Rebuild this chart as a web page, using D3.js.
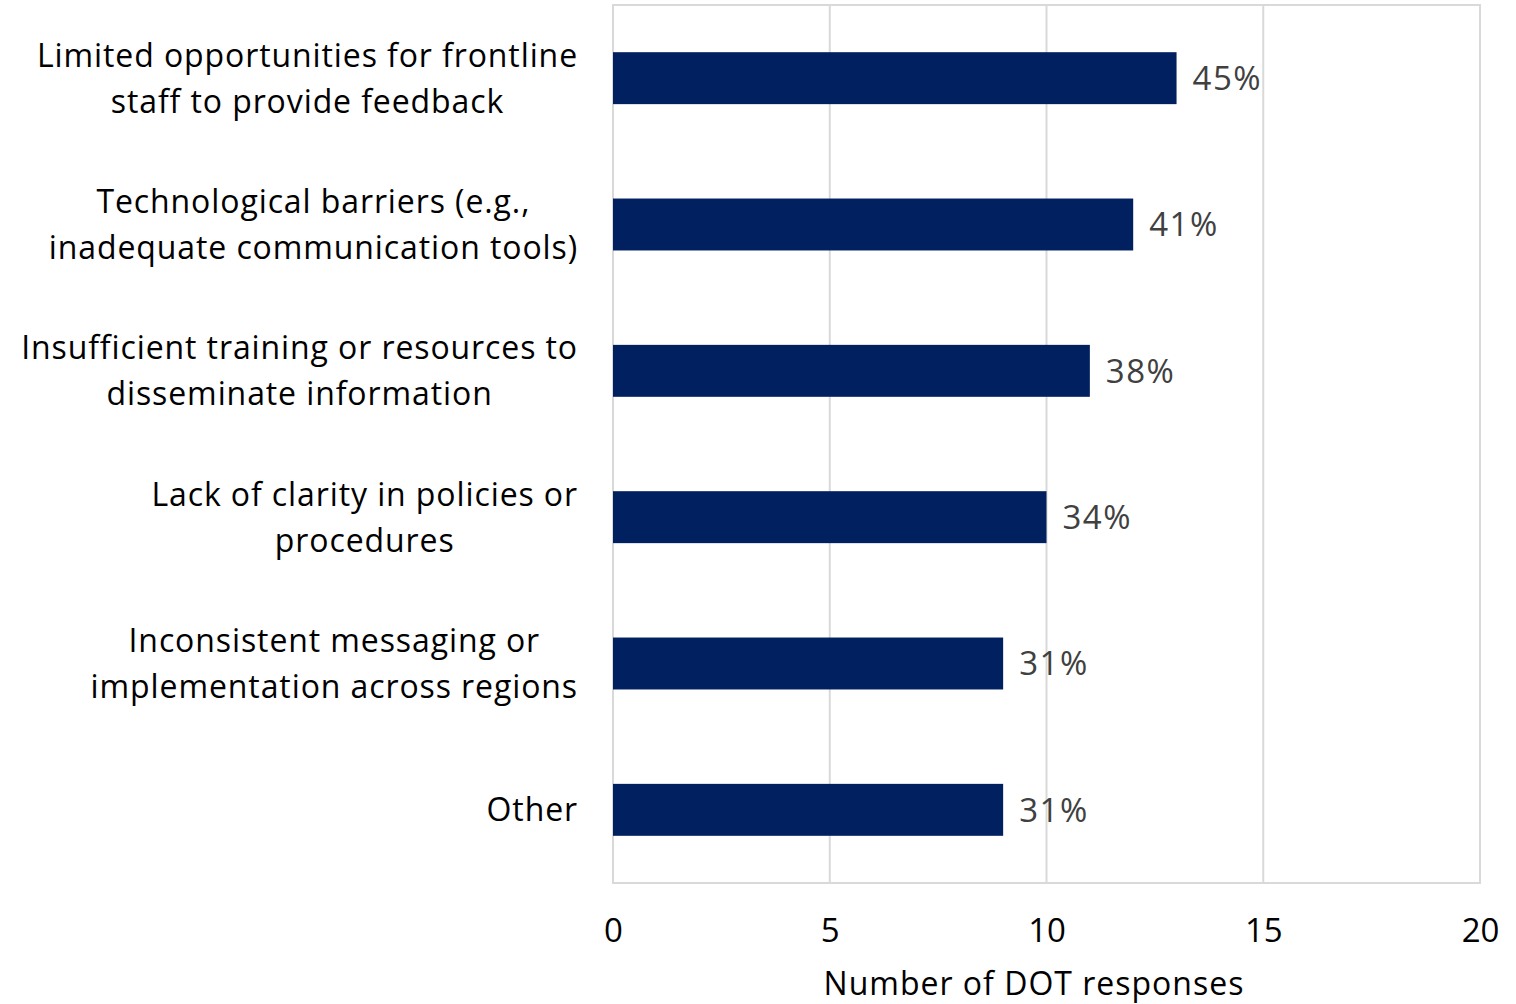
<!DOCTYPE html>
<html>
<head>
<meta charset="utf-8">
<script src="https://cdn.jsdelivr.net/npm/d3@7"></script>
<style>
  html, body { margin: 0; padding: 0; background: #fff; }
  svg { display: block; }
  text { font-family: "Open Sans", "Noto Sans", sans-serif; }
</style>
</head>
<body>
<svg id="chart" width="1516" height="1004"></svg>
<script>
// Barriers reported, with count of DOT responses and share of respondents
const categories = [
  ["Limited opportunities for frontline", "staff to provide feedback"],
  ["Technological barriers (e.g.,", "inadequate communication tools)"],
  ["Insufficient training or resources to", "disseminate information"],
  ["Lack of clarity in policies or", "procedures"],
  ["Inconsistent messaging or", "implementation across regions"],
  ["Other"]
];
const counts = [13, 12, 11, 10, 9, 9];
const percentLabels = ["45%", "41%", "38%", "34%", "31%", "31%"];
const xTicks = [0, 5, 10, 15, 20];
const axisTitle = "Number of DOT responses";

const svg = d3.select("#chart");
const plot = { left: 613, right: 1480, top: 5, bottom: 883 };

const x = d3.scaleLinear().domain([0, 20]).range([plot.left, plot.right]);
const y = d3.scaleBand()
  .domain(d3.range(categories.length))
  .range([plot.top, plot.bottom])
  .paddingInner(0.645)
  .paddingOuter(0.3225);

// Vertical gridlines
svg.append("g")
  .selectAll("line")
  .data(xTicks)
  .join("line")
  .attr("x1", d => x(d)).attr("x2", d => x(d))
  .attr("y1", plot.top).attr("y2", plot.bottom)
  .attr("stroke", "#d9d9d9").attr("stroke-width", 2);

// Plot area frame
svg.append("rect")
  .attr("x", plot.left).attr("y", plot.top)
  .attr("width", plot.right - plot.left).attr("height", plot.bottom - plot.top)
  .attr("fill", "none").attr("stroke", "#d9d9d9").attr("stroke-width", 2);

// Bars
svg.append("g")
  .selectAll("rect")
  .data(counts)
  .join("rect")
  .attr("x", x(0))
  .attr("y", (d, i) => y(i))
  .attr("width", d => x(d) - x(0))
  .attr("height", y.bandwidth())
  .attr("fill", "#002060");

// Value labels
svg.append("g")
  .selectAll("text")
  .data(counts)
  .join("text")
  .attr("x", d => x(d) + 16)
  .attr("y", (d, i) => y(i) + y.bandwidth() / 2)
  .attr("dy", "0.36em")
  .attr("font-size", 33)
  .attr("letter-spacing", 1.5)
  .attr("fill", "#404040")
  .text((d, i) => percentLabels[i]);

// Category labels: lines centred on each other, block right-aligned to the axis
const labelRight = 578;
const lineHeight = 46;
const catG = svg.append("g");
categories.forEach((lines, i) => {
  const cy = y(i) + y.bandwidth() / 2;
  const t = catG.append("text")
    .attr("font-size", 32)
    .attr("letter-spacing", 0.9)
    .attr("fill", "#000")
    .attr("text-anchor", "middle");
  lines.forEach((ln, j) => {
    t.append("tspan")
      .attr("x", 0)
      .attr("y", cy + (j - (lines.length - 1) / 2) * lineHeight)
      .attr("dy", "0.36em")
      .text(ln);
  });
  let maxW = 0;
  t.selectAll("tspan").each(function () {
    maxW = Math.max(maxW, this.getComputedTextLength());
  });
  t.selectAll("tspan").attr("x", labelRight - maxW / 2);
});

// X axis tick labels
const xAxis = d3.axisBottom(x).tickValues(xTicks).tickSize(0).tickPadding(0);
const axG = svg.append("g")
  .attr("transform", `translate(0,${plot.bottom})`)
  .call(xAxis);
axG.select(".domain").remove();
axG.selectAll("text")
  .attr("font-size", 33)
  .attr("fill", "#000")
  .attr("font-family", "\"Open Sans\", \"Noto Sans\", sans-serif")
  .attr("y", 59)
  .attr("dy", 0);

// Axis title
svg.append("text")
  .attr("x", 1034)
  .attr("y", 995)
  .attr("text-anchor", "middle")
  .attr("font-size", 32)
  .attr("letter-spacing", 1)
  .attr("fill", "#000")
  .text(axisTitle);
</script>
</body>
</html>
